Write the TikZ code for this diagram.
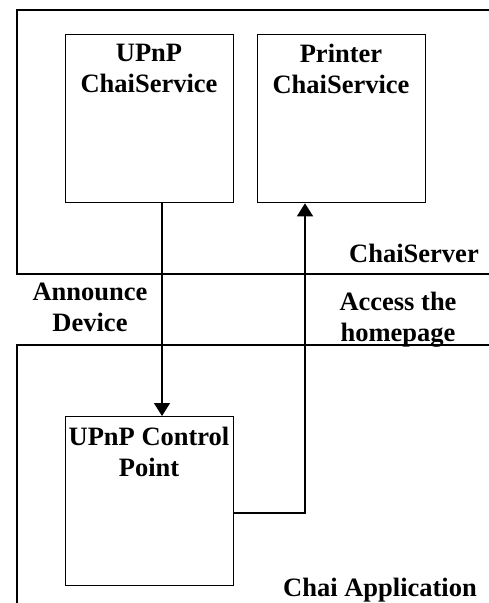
\documentclass[tikz,border=0pt]{standalone}
\usepackage{fontspec}
\setmainfont{Liberation Serif}
\usetikzlibrary{arrows.meta}
\begin{document}
\begin{tikzpicture}[x=1pt,y=1pt,
  line width=1.3pt,
  box/.style={draw,line width=1.3pt,minimum width=168pt,minimum height=168pt,inner sep=0pt,anchor=north west},
  lbl/.style={font=\bfseries\fontsize{26.5}{31}\selectfont,align=center,inner sep=0pt,anchor=north},
  arr/.style={-{Triangle[width=16pt,length=13pt]},line width=1.3pt}]
\useasboundingbox (0,0) rectangle (489,-603);
% containers
\draw (489,-10) -- (17,-10) -- (17,-274) -- (489,-274);
\draw (489,-345) -- (17,-345) -- (17,-603);
% boxes
\node[box] (ups) at (65,-34) {};
\node[box] (prs) at (257,-34) {};
\node[box,minimum height=169pt] (ucp) at (65,-416) {};
% box texts
\node[lbl] (tups) at (149,-43) {UPnP\\ChaiService};
\node[lbl] (tprs) at (341,-43) {Printer\\ChaiService};
\node[lbl] (tucp) at (149,-426) {UPnP Control\\Point};
% labels
\node[lbl] (srv) at (414,-243) {ChaiServer};
\node[lbl] (ann) at (90,-282) {Announce\\Device};
\node[lbl] (acc) at (398,-291) {Access the\\homepage};
\node[lbl] (app) at (380,-577) {Chai Application};
% connectors
\draw[arr] (ups.south -| 162,0) -- (ucp.north -| 162,0);
\coordinate (turn) at (305,-513);
\draw[arr] (ucp.east |- turn) -- (turn) -- (prs.south -| turn);
\end{tikzpicture}
\end{document}
